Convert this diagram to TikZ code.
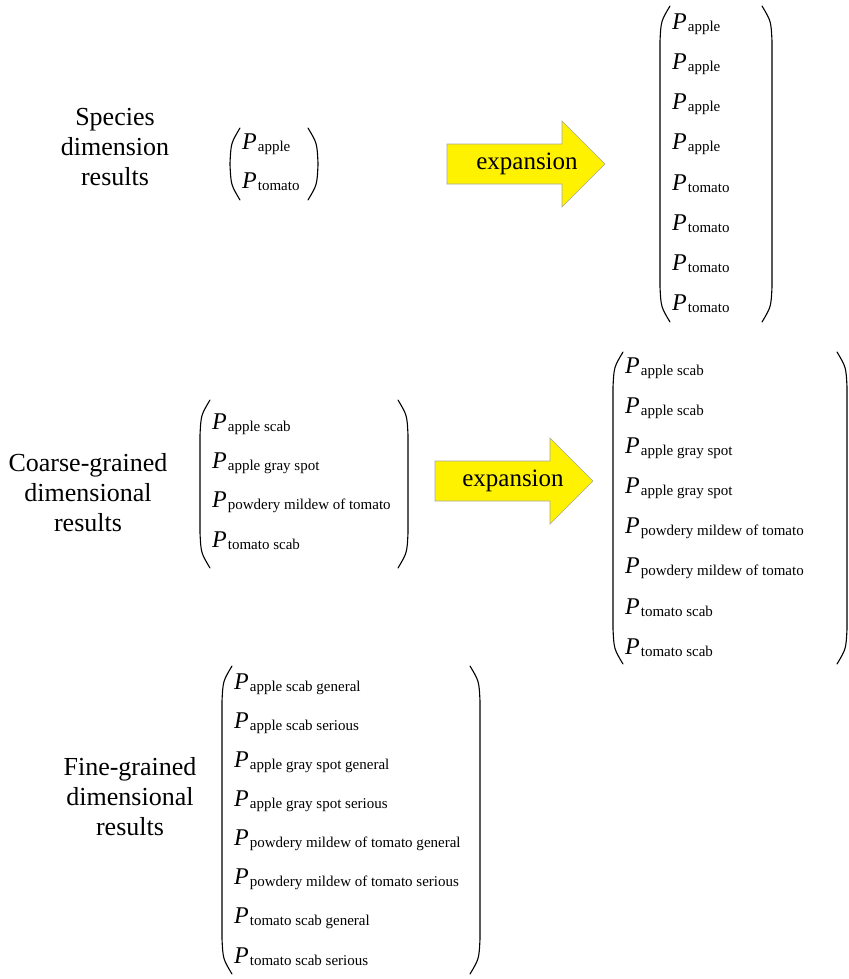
\documentclass[tikz,border=0pt]{standalone}
\usepackage{fontspec}
\setmainfont{Liberation Serif}
\usepackage{tikz}
\newcommand{\Pv}[1]{\textit{P}\kern1pt\raisebox{-2pt}{\fontsize{15}{15}\selectfont #1}}
% left x, right x, top y, bottom y
\newcommand{\bracketpair}[4]{%
  \draw[paren] (#1+10,#3) .. controls (#1+1,#3+15) .. (#1,#3+35) -- (#1,#4-35) .. controls (#1+1,#4-15) .. (#1+10,#4);
  \draw[paren] (#2-10,#3) .. controls (#2-1,#3+15) .. (#2,#3+35) -- (#2,#4-35) .. controls (#2-1,#4-15) .. (#2-10,#4);}
% name, body left x, centre y, text x
\newcommand{\exparrow}[4]{%
  \draw[arrowbody] (#2,#3-20) -- (#2+115,#3-20) -- (#2+115,#3-43) -- (#2+158,#3)
    -- (#2+115,#3+43) -- (#2+115,#3+20) -- (#2,#3+20) -- cycle;
  \node[font=\fontsize{25}{25}\selectfont] (#1) at (#4,#3) {expansion};}

\begin{document}
\begin{tikzpicture}[
    x=1pt, y=-1pt,
    paren/.style={line width=1.1pt, line cap=round},
    arrowbody/.style={fill=yellow, draw=gray!70, line width=0.6pt},
    entry/.style={anchor=west, inner sep=0pt, font=\fontsize{24}{24}\selectfont},
    result/.style={align=center, inner sep=0pt, font=\fontsize{26}{30}\selectfont}]

    \useasboundingbox (0,0) rectangle (848,979);

    % species level
    \node[result] (lab1) at (115,147) {Species\\dimension\\results};
    \foreach \s [count=\i] in {apple, tomato}
        \node[entry] (tl\i) at (242,{144+38*(\i-1)}) {\Pv{\s}};
    \bracketpair{230}{318}{128}{200}

    \exparrow{exp1}{447}{164}{527}

    \foreach \s [count=\i] in {apple, apple, apple, apple, tomato, tomato, tomato, tomato}
        \node[entry] (tr\i) at (672,{24+40*(\i-1)}) {\Pv{\s}};
    \bracketpair{660}{772}{6}{322}

    % coarse level
    \node[result] (lab2) at (88,493) {Coarse-grained\\dimensional\\results};
    \foreach \s [count=\i] in {apple scab, apple gray spot, powdery mildew of tomato, tomato scab}
        \node[entry] (ml\i) at (212,{424+39*(\i-1)}) {\Pv{\s}};
    \bracketpair{200}{408}{400}{568}

    \exparrow{exp2}{435}{481}{513}

    \foreach \s [count=\i] in {apple scab, apple scab, apple gray spot, apple gray spot,
        powdery mildew of tomato, powdery mildew of tomato, tomato scab, tomato scab}
        \node[entry] (mr\i) at (625,{368+40*(\i-1)}) {\Pv{\s}};
    \bracketpair{613}{847}{352}{664}

    % fine level
    \node[result] (lab3) at (130,797) {Fine-grained\\dimensional\\results};
    \foreach \s [count=\i] in {apple scab general, apple scab serious, apple gray spot general,
        apple gray spot serious, powdery mildew of tomato general, powdery mildew of tomato serious,
        tomato scab general, tomato scab serious}
        \node[entry] (fn\i) at (234,{684+39*(\i-1)}) {\Pv{\s}};
    \bracketpair{222}{480}{666}{974}

\end{tikzpicture}
\end{document}
